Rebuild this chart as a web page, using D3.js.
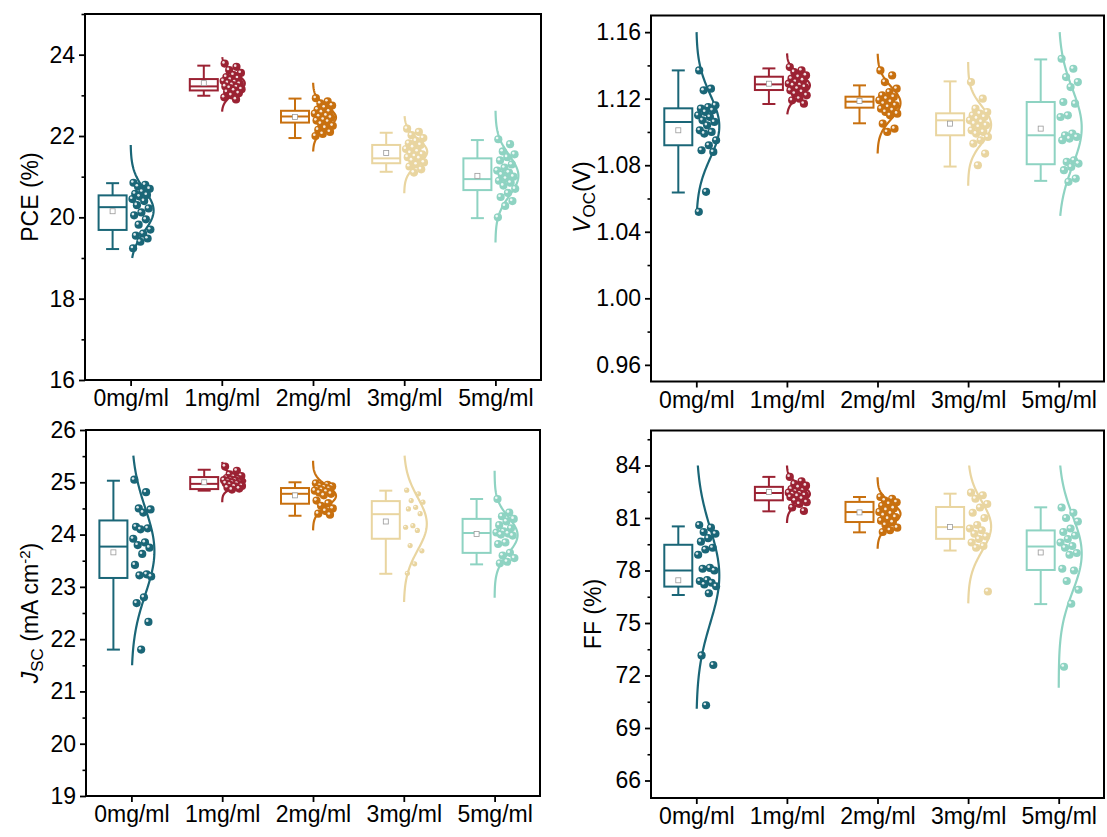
<!DOCTYPE html>
<html><head><meta charset="utf-8">
<script src="https://cdn.jsdelivr.net/npm/d3@7"></script>
<style>body{margin:0;background:#fff;} svg{display:block;} text{font-family:Arial,"Liberation Sans",sans-serif;}</style>
</head><body>
<svg id="chart" width="1107" height="837"></svg>
<script>
const categories = ["0mg/ml","1mg/ml","2mg/ml","3mg/ml","5mg/ml"];
const colors = ["#1a6677","#9b2233","#c8700f","#e9d5a0","#8ed3c2"];

// ---- PCE (%) ----
const pcePoints = [
  [20.85,20.80,20.76,20.70,20.63,20.58,20.55,20.51,20.45,20.40,20.30,20.22,20.12,20.05,19.95,19.82,19.70,19.60,19.55,19.48,19.40,19.24],
  [23.78,23.70,23.62,23.55,23.50,23.45,23.42,23.38,23.35,23.32,23.30,23.28,23.25,23.22,23.20,23.18,23.15,23.12,23.08,23.05,23.00,22.95,22.90],
  [22.93,22.85,22.80,22.75,22.70,22.65,22.60,22.58,22.55,22.50,22.48,22.45,22.40,22.38,22.35,22.30,22.25,22.20,22.15,22.10,22.05,22.00],
  [22.18,22.10,22.02,21.95,21.88,21.82,21.78,21.72,21.68,21.62,21.58,21.55,21.50,21.48,21.45,21.40,21.35,21.30,21.25,21.18,21.10],
  [21.92,21.80,21.62,21.55,21.48,21.40,21.30,21.22,21.15,21.10,21.05,21.00,20.95,20.90,20.85,20.78,20.70,20.60,20.50,20.40,20.28,20.00]
];
// [whiskerLow, Q1, median, Q3, whiskerHigh, mean]
const pceBoxStats = [
  [19.22,19.69,20.25,20.54,20.84,20.15],
  [22.99,23.12,23.22,23.40,23.73,23.30],
  [21.95,22.33,22.48,22.62,22.92,22.47],
  [21.12,21.33,21.45,21.78,22.08,21.58],
  [19.98,20.67,20.94,21.45,21.90,21.02]
];
const pceCurveRange = [[19.0,21.78],[22.60,23.94],[21.62,23.31],[20.59,22.49],[19.38,22.62]];
const pceTicks = [16,18,20,22,24];

// ---- VOC (V) ----
const vocPoints = [
  [1.137,1.126,1.125,1.116,1.115,1.114,1.113,1.112,1.110,1.109,1.107,1.106,1.104,1.101,1.100,1.099,1.095,1.092,1.089,1.088,1.064,1.052],
  [1.139,1.137,1.136,1.134,1.133,1.132,1.131,1.130,1.129,1.128,1.128,1.127,1.126,1.125,1.124,1.123,1.122,1.120,1.119,1.117],
  [1.137,1.134,1.130,1.126,1.124,1.122,1.121,1.120,1.119,1.118,1.117,1.116,1.115,1.114,1.113,1.112,1.111,1.110,1.105,1.102,1.100],
  [1.130,1.120,1.114,1.112,1.111,1.110,1.109,1.108,1.107,1.106,1.105,1.104,1.103,1.101,1.100,1.099,1.097,1.095,1.093,1.087,1.080],
  [1.144,1.138,1.133,1.130,1.127,1.118,1.117,1.110,1.109,1.099,1.098,1.097,1.096,1.095,1.083,1.082,1.081,1.079,1.077,1.072,1.070]
];
const vocBoxStats = [
  [1.0636,1.092,1.106,1.1142,1.137,1.101],
  [1.1168,1.1252,1.1286,1.1332,1.1382,1.129],
  [1.1052,1.1146,1.1182,1.1212,1.128,1.1186],
  [1.0792,1.098,1.107,1.1112,1.1304,1.105],
  [1.0706,1.0806,1.098,1.118,1.1436,1.102]
];
const vocCurveRange = [[1.050,1.160],[1.1106,1.1472],[1.087,1.147],[1.0676,1.142],[1.0496,1.160]];
const vocTicks = [0.96,1.00,1.04,1.08,1.12,1.16];

// ---- JSC (mA cm-2) ----
const jscPoints = [
  [25.05,24.81,24.50,24.48,24.42,24.15,24.12,24.10,23.92,23.85,23.80,23.75,23.63,23.42,23.24,23.22,23.20,22.80,22.69,22.33,21.80],
  [25.30,25.22,25.15,25.12,25.10,25.08,25.06,25.05,25.04,25.03,25.02,25.00,24.99,24.98,24.97,24.95,24.93,24.92,24.90,24.88,24.86],
  [24.98,24.95,24.93,24.92,24.90,24.88,24.87,24.85,24.84,24.82,24.80,24.78,24.75,24.65,24.60,24.55,24.50,24.45,24.40,24.38],
  [24.85,24.78,24.65,24.62,24.52,24.49,24.40,24.17,24.14,24.08,23.79,23.69,23.44,23.26],
  [24.68,24.42,24.35,24.30,24.25,24.18,24.12,24.06,24.04,24.02,24.00,23.98,23.85,23.82,23.65,23.60,23.55,23.48,23.45]
];
const jscBoxStats = [
  [21.80,23.17,23.77,24.27,25.03,23.66],
  [24.84,24.87,24.97,25.10,25.24,25.00],
  [24.36,24.59,24.78,24.89,25.00,24.75],
  [23.25,23.92,24.39,24.64,24.84,24.25],
  [23.43,23.65,24.03,24.30,24.68,24.01]
];
const jscCurveRange = [[21.50,25.51],[24.62,25.39],[24.08,25.41],[22.71,25.51],[22.79,25.22]];
const jscTicks = [19,20,21,22,23,24,25,26];

// ---- FF (%) ----
const ffPoints = [
  [80.60,80.45,80.20,80.10,79.85,79.65,79.30,79.20,78.90,78.15,78.10,78.00,77.45,77.40,77.30,77.20,77.10,76.70,73.15,72.60,70.30],
  [83.35,83.10,82.95,82.85,82.75,82.65,82.55,82.50,82.45,82.40,82.35,82.30,82.25,82.20,82.10,82.00,81.90,81.80,81.60,81.40],
  [82.20,82.10,82.00,81.90,81.80,81.70,81.55,81.45,81.35,81.25,81.15,81.05,80.95,80.85,80.75,80.60,80.45,80.30,80.20],
  [82.45,82.30,82.10,81.80,81.60,81.30,81.00,80.60,80.40,80.30,80.10,79.95,79.80,79.60,79.40,79.30,76.80],
  [81.60,81.30,81.00,80.80,80.40,80.20,80.00,79.80,79.60,79.40,79.30,79.00,78.90,78.10,78.00,77.40,76.90,76.10,72.50]
];
const ffBoxStats = [
  [76.60,77.08,78.00,79.47,80.52,77.44],
  [81.38,82.01,82.43,82.78,83.35,82.49],
  [80.18,80.77,81.34,81.92,82.20,81.32],
  [79.14,79.81,80.48,81.63,82.39,80.48],
  [76.08,78.03,79.37,80.29,81.61,79.03]
];
const ffCurveRange = [[70.1,84.0],[80.71,84.0],[79.24,83.33],[76.12,84.0],[71.3,84.0]];
const ffTicks = [66,69,72,75,78,81,84];

const svg = d3.select("#chart");
const FS = 23;

const panels = [
  {id:"pce", points:pcePoints, box:pceBoxStats, curve:pceCurveRange, ticks:pceTicks, domain:[16,25], minor:1,
   fmt:d3.format("d"), x0:85, x1:541, y0:14, y1:380, small:[]},
  {id:"voc", points:vocPoints, box:vocBoxStats, curve:vocCurveRange, ticks:vocTicks, domain:[0.95,1.17], minor:0.02,
   fmt:d3.format(".2f"), x0:651, x1:1104, y0:15.5, y1:381.5, small:[]},
  {id:"jsc", points:jscPoints, box:jscBoxStats, curve:jscCurveRange, ticks:jscTicks, domain:[19,26], minor:0.5,
   fmt:d3.format("d"), x0:86, x1:540, y0:430, y1:796, small:[3]},
  {id:"ff", points:ffPoints, box:ffBoxStats, curve:ffCurveRange, ticks:ffTicks, domain:[65,86], minor:1.5,
   fmt:d3.format("d"), x0:651, x1:1104, y0:430.5, y1:798, small:[]}
];

panels.forEach(p => {
  const g = svg.append("g").attr("class","panel-"+p.id);
  const x = d3.scalePoint().domain(categories).range([p.x0,p.x1]).padding(0.5);
  const y = d3.scaleLinear().domain(p.domain).range([p.y1,p.y0]);

  const minorVals = [];
  for (let v = Math.ceil(p.domain[0]/p.minor)*p.minor; v <= p.domain[1]+1e-9; v += p.minor) {
    const vv = +v.toFixed(4);
    if (!p.ticks.some(t => Math.abs(t-vv) < 1e-6)) minorVals.push(vv);
  }
  const minorAxis = g.append("g").attr("transform",`translate(${p.x0},0)`)
    .call(d3.axisLeft(y).tickValues(minorVals).tickSize(3.5).tickFormat(""));
  minorAxis.select(".domain").remove();
  minorAxis.selectAll("line").attr("stroke","#000").attr("stroke-width",1.6);

  const yAxis = g.append("g").attr("transform",`translate(${p.x0},0)`)
    .call(d3.axisLeft(y).tickValues(p.ticks).tickSize(6).tickPadding(4).tickFormat(p.fmt));
  yAxis.select(".domain").remove();
  yAxis.selectAll("line").attr("stroke","#000").attr("stroke-width",1.8);
  yAxis.selectAll("text").attr("font-size",FS).attr("fill","#000").style("font-family","Arial, 'Liberation Sans', sans-serif");

  const xAxis = g.append("g").attr("transform",`translate(0,${p.y1})`)
    .call(d3.axisBottom(x).tickSize(6).tickPadding(4));
  xAxis.select(".domain").remove();
  xAxis.selectAll("line").attr("stroke","#000").attr("stroke-width",1.8);
  xAxis.selectAll("text").attr("font-size",FS).attr("fill","#000").style("font-family","Arial, 'Liberation Sans', sans-serif");

  g.append("rect").attr("x",p.x0).attr("y",p.y0).attr("width",p.x1-p.x0).attr("height",p.y1-p.y0)
    .attr("fill","none").attr("stroke","#000").attr("stroke-width",2);

  categories.forEach((c,i) => {
    const col = colors[i];
    const cx = x(c);
    const bx = cx - 18;
    const [wl,q1,med,q3,wh,mean] = p.box[i];
    const bg = g.append("g");
    const sw = 2;
    bg.append("line").attr("x1",bx).attr("x2",bx).attr("y1",y(wh)).attr("y2",y(q3)).attr("stroke",col).attr("stroke-width",sw);
    bg.append("line").attr("x1",bx).attr("x2",bx).attr("y1",y(q1)).attr("y2",y(wl)).attr("stroke",col).attr("stroke-width",sw);
    bg.append("line").attr("x1",bx-6.5).attr("x2",bx+6.5).attr("y1",y(wh)).attr("y2",y(wh)).attr("stroke",col).attr("stroke-width",sw);
    bg.append("line").attr("x1",bx-6.5).attr("x2",bx+6.5).attr("y1",y(wl)).attr("y2",y(wl)).attr("stroke",col).attr("stroke-width",sw);
    bg.append("rect").attr("x",bx-14).attr("y",y(q3)).attr("width",28).attr("height",y(q1)-y(q3))
      .attr("fill","none").attr("stroke",col).attr("stroke-width",sw);
    bg.append("line").attr("x1",bx-14).attr("x2",bx+14).attr("y1",y(med)).attr("y2",y(med)).attr("stroke",col).attr("stroke-width",sw);
    bg.append("rect").attr("x",bx-2.5).attr("y",y(mean)-2.5).attr("width",5).attr("height",5)
      .attr("fill","#fff").attr("stroke","#9a9a9a").attr("stroke-width",0.8);

    const pts = p.points[i];
    const mu = d3.mean(pts), sd = d3.deviation(pts);
    const [lo,hi] = p.curve[i];
    const A = 23;
    const vals = d3.range(0,101).map(k => lo + (hi-lo)*k/100);
    const line = d3.line().x(v => cx + A*Math.exp(-((v-mu)**2)/(2*sd*sd))).y(v => y(v));
    g.append("path").attr("d",line(vals)).attr("fill","none").attr("stroke",col).attr("stroke-width",2.2);

    const r = p.small.includes(i) ? 2.6 : 4.1;
    const pg = g.append("g");
    pts.forEach((v,k) => {
      const frac = (k*0.618034 + 0.1) % 1;
      const px = cx + 1 + frac*19;
      pg.append("circle").attr("cx",px).attr("cy",y(v)).attr("r",r).attr("fill",col);
      pg.append("circle").attr("cx",px-r*0.3).attr("cy",y(v)-r*0.3).attr("r",r*0.32).attr("fill","#fff").attr("opacity",0.85);
    });
  });
});

function yTitle(cx, cy, parts) {
  const t = svg.append("text").attr("transform",`translate(${cx},${cy}) rotate(-90)`)
    .attr("text-anchor","middle").attr("font-size",FS).attr("fill","#000");
  parts.forEach(pt => {
    const ts = t.append("tspan").text(pt.t);
    if (pt.italic) ts.attr("font-style","italic");
    if (pt.size) ts.attr("font-size",pt.size);
    if (pt.dy) ts.attr("dy",pt.dy);
  });
}
yTitle(38, 197, [{t:"PCE (%)"}]);
yTitle(590, 197, [{t:"V",italic:true},{t:"OC",size:17,dy:5},{t:"(V)",dy:-5}]);
yTitle(38, 613, [{t:"J",italic:true},{t:"SC",size:17,dy:5},{t:" (mA cm",dy:-5},{t:"-2",size:15,dy:-8},{t:")",dy:8}]);
yTitle(601, 614, [{t:"FF (%)"}]);
</script>
</body></html>
